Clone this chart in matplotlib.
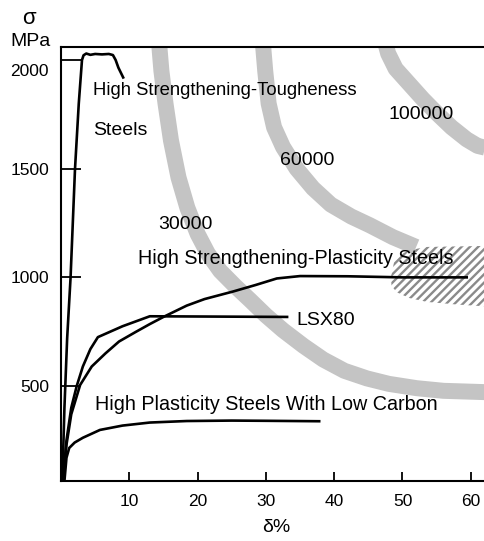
from __future__ import annotations

import matplotlib

matplotlib.use("Agg")
import matplotlib.pyplot as plt

# stress-strain curves (delta %, sigma MPa)
tough_x = [0.2, 0.5, 0.9, 1.4, 2.05, 2.6, 3.07, 3.3, 3.7, 4.3, 5.0, 6.0, 7.0, 7.6, 8.0, 8.4, 9.1]
tough_y = [70, 400, 720, 1000, 1500, 1800, 2000, 2022, 2030, 2024, 2028, 2026, 2028, 2023, 2000, 1965, 1920]

lsx80_x = [0.3, 0.8, 1.5, 2.3, 3.2, 4.3, 5.4, 9.0, 13.0, 33.1]
lsx80_y = [70, 250, 400, 500, 590, 670, 725, 775, 821, 818]

plastic_x = [0.3, 0.8, 1.5, 2.8, 4.5, 6.5, 8.5, 11.0, 13.0, 15.0, 18.4, 21.0, 25.2, 28.5, 31.6, 35.0, 42.0, 50.0, 59.4]
plastic_y = [70, 230, 370, 505, 590, 650, 705, 750, 785, 818, 870, 900, 935, 965, 995, 1006, 1005, 1000, 1000]

lowc_x = [0.5, 0.8, 1.2, 2.0, 3.2, 5.7, 9.0, 13.0, 18.4, 25.0, 30.0, 37.8]
lowc_y = [63, 170, 215, 240, 262, 298, 318, 332, 339, 341, 340, 338]

# strength-ductility product bands (MPa %)
band30_x = [14.3, 14.7, 15.3, 16.1, 17.2, 18.5, 20.0, 21.5, 23.3, 25.5, 27.7, 30.0, 32.5,
            35.5, 38.4, 41.5, 44.8, 48.0, 52.1, 56.0, 63.0]
band30_y = [2100, 1950, 1800, 1630, 1460, 1320, 1200, 1110, 1030, 960, 895, 825, 757,
            685, 622, 570, 535, 510, 490, 478, 471]
band60_x = [29.5, 29.9, 30.4, 31.2, 32.5, 34.5, 36.9, 39.5, 42.5, 45.2, 48.6, 52.0]
band60_y = [2100, 1950, 1800, 1690, 1600, 1500, 1410, 1335, 1280, 1240, 1185, 1140]
band100_x = [47.3, 47.9, 49.0, 51.0, 53.0, 55.0, 57.2, 59.4, 61.0, 63.0]
band100_y = [2100, 2030, 1960, 1890, 1820, 1756, 1690, 1635, 1605, 1590]

# hatched target region
hatch_x = [48.3, 48.8, 50.0, 51.1, 53.6, 62.5, 62.5, 58.0, 53.6, 51.0, 49.2, 48.4]
hatch_y = [1000, 1075, 1110, 1126, 1140, 1145, 866, 875, 887, 905, 931, 960]

x_ticks = [10, 20, 30, 40, 50, 60]
y_ticks = [500, 1000, 1500, 2000]

FONT = ["Liberation Sans", "DejaVu Sans"]


def main() -> int:
    plt.rcParams["font.family"] = FONT
    plt.rcParams["hatch.linewidth"] = 1.7

    fig = plt.figure(figsize=(4.85, 5.41), dpi=100)
    ax = fig.add_axes([0.1258, 0.1109, 0.8742, 0.8022])
    ax.set_xlim(0, 62.08)
    ax.set_ylim(63, 2060)

    band_kw = dict(color="#c4c4c4", lw=11.5, solid_capstyle="butt", zorder=1)
    ax.plot(band30_x, band30_y, **band_kw)
    ax.plot(band60_x, band60_y, **band_kw)
    ax.plot(band100_x, band100_y, **band_kw)

    ax.fill(hatch_x, hatch_y, facecolor="none", edgecolor="#8a8a8a",
            hatch="////", linewidth=0, zorder=2)

    line_kw = dict(color="black", lw=1.9, zorder=3)
    ax.plot(tough_x, tough_y, **line_kw)
    ax.plot(lsx80_x, lsx80_y, **line_kw)
    ax.plot(plastic_x, plastic_y, **line_kw)
    ax.plot(lowc_x, lowc_y, **line_kw)

    text_kw = dict(ha="left", va="baseline", zorder=5)
    ax.text(4.69, 1839, "High Strengthening-Tougheness", fontsize=13.3, **text_kw)
    ax.text(4.69, 1655, "Steels", fontsize=14, **text_kw)
    ax.text(48.0, 1728, "100000", fontsize=14, **text_kw)
    ax.text(32.1, 1517, "60000", fontsize=14, **text_kw)
    ax.text(14.2, 1223, "30000", fontsize=14, **text_kw)
    ax.text(11.3, 1061, "High Strengthening-Plasticity Steels", fontsize=14.2, **text_kw)
    ax.text(34.4, 781, "LSX80", fontsize=14, **text_kw)
    ax.text(4.98, 390, "High Plasticity Steels With Low Carbon", fontsize=14.2, **text_kw)

    ax.spines["right"].set_visible(False)
    for side in ("left", "bottom", "top"):
        ax.spines[side].set_linewidth(1.5)

    ax.set_xticks(x_ticks)
    ax.set_yticks(y_ticks)
    ax.set_yticklabels([str(v) if v != 2000 else "" for v in y_ticks])
    ax.tick_params(axis="x", direction="in", length=6.5, width=1.3, pad=9.0, labelsize=12.5)
    ax.tick_params(axis="y", direction="in", length=14.4, width=1.3, pad=8.6, labelsize=12.5)
    # 2000 label sits a bit lower than its tick
    ax.annotate("2000", xy=(0, 2000), xycoords=("axes fraction", "data"),
                xytext=(-8.6, -8.5), textcoords="offset points",
                ha="right", va="center", fontsize=12.5)

    fig.text(29 / 485, 1 - 18 / 541, "σ", fontsize=16, ha="center", va="center")
    fig.text(31 / 485, 1 - 42 / 541, "MPa", fontsize=14, ha="center", va="center")
    fig.text(276 / 485, 1 - 528 / 541, "δ%", fontsize=14, ha="center", va="center")

    fig.savefig("out.png", dpi=100)
    plt.close(fig)
    return 0


if __name__ == "__main__":
    raise SystemExit(main())
